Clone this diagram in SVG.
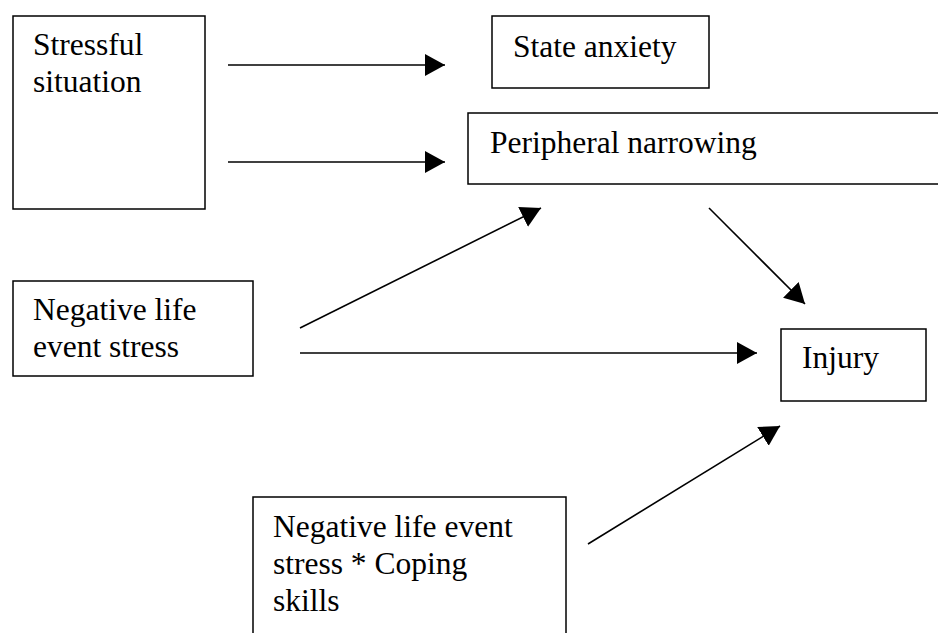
<svg xmlns="http://www.w3.org/2000/svg" width="938" height="633" viewBox="0 0 938 633">
<style>
.box{fill:#fff;stroke:#000;stroke-width:1.5}
.t{font-family:"Liberation Serif","Times New Roman",serif;font-size:31.5px;fill:#000}
.c{stroke:#000;stroke-width:1.6;fill:none;marker-end:url(#ah)}
</style>
<defs>
<marker id="ah" markerUnits="userSpaceOnUse" markerWidth="22" markerHeight="24" refX="20" refY="11" orient="auto" viewBox="0 0 22 24">
<path d="M0,0 L20,11 L0,22 z" fill="#000"/>
</marker>
</defs>
<rect width="938" height="633" fill="#fff"/>
<g id="stressful">
<rect class="box" x="13" y="16" width="192" height="193"/>
<text class="t" x="33" y="55">Stressful</text>
<text class="t" x="33" y="92">situation</text>
</g>
<g id="state-anxiety">
<rect class="box" x="492" y="16" width="217" height="72"/>
<text class="t" x="513" y="57">State anxiety</text>
</g>
<g id="peripheral">
<rect class="box" x="468" y="113" width="480" height="71"/>
<text class="t" x="490" y="153">Peripheral narrowing</text>
</g>
<g id="neg-life">
<rect class="box" x="13" y="281" width="240" height="95"/>
<text class="t" x="33" y="320">Negative life</text>
<text class="t" x="33" y="357">event stress</text>
</g>
<g id="injury">
<rect class="box" x="781" y="329" width="145" height="72"/>
<text class="t" x="802" y="368">Injury</text>
</g>
<g id="interaction">
<rect class="box" x="253" y="497" width="313" height="150"/>
<text class="t" x="273" y="537">Negative life event</text>
<text class="t" x="273" y="574">stress * Coping</text>
<text class="t" x="273" y="611">skills</text>
</g>
<g id="connectors">
<line class="c" x1="228" y1="65" x2="445" y2="65"/>
<line class="c" x1="228" y1="162" x2="445" y2="162"/>
<line class="c" x1="300" y1="328" x2="541" y2="208"/>
<line class="c" x1="300" y1="353" x2="757" y2="353"/>
<line class="c" x1="709" y1="208" x2="805" y2="304"/>
<line class="c" x1="588" y1="544" x2="780" y2="426"/>
</g>
</svg>
